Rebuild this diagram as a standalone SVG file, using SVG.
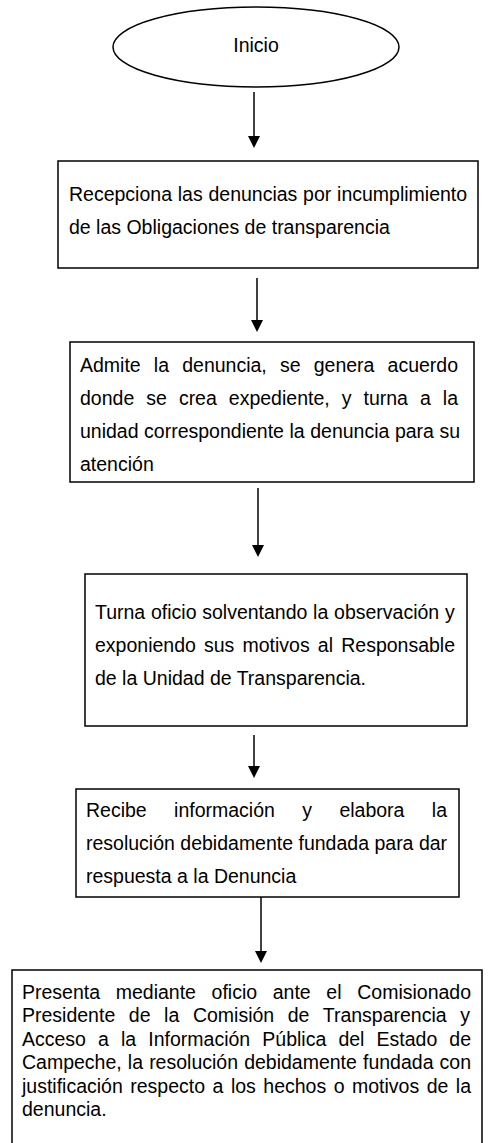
<svg xmlns="http://www.w3.org/2000/svg" width="492" height="1143" viewBox="0 0 492 1143">
<style>
.box{fill:#fff;stroke:#000;stroke-width:1.5}
.t{font-family:"Liberation Sans",Arial,sans-serif;font-size:19.5px;fill:#000}
.c{stroke:#000;stroke-width:1.5;fill:none}
</style>
<defs>
<marker id="ah" markerUnits="userSpaceOnUse" markerWidth="12" markerHeight="12" refX="10" refY="6" orient="auto">
<path d="M0,0 L12,6 L0,12 z" fill="#000"/>
</marker>
</defs>
<rect width="492" height="1143" fill="#fff"/>
<g id="inicio">
<ellipse class="box" cx="256" cy="47" rx="143" ry="40"/>
<text class="t" x="256" y="52" text-anchor="middle">Inicio</text>
</g>
<g id="n1">
<rect class="box" x="58" y="161" width="420" height="107"/>
<text class="t" x="69" y="201" word-spacing="0.35">Recepciona las denuncias por incumplimiento</text>
<text class="t" x="69" y="234">de las Obligaciones de transparencia</text>
</g>
<g id="n2">
<rect class="box" x="70" y="342" width="404" height="140"/>
<text class="t" x="80" y="372" word-spacing="7.75">Admite la denuncia, se genera acuerdo</text>
<text class="t" x="80" y="405" word-spacing="6.61">donde se crea expediente, y turna a la</text>
<text class="t" x="80" y="438" word-spacing="0.12">unidad correspondiente la denuncia para su</text>
<text class="t" x="80" y="471">atención</text>
</g>
<g id="n3">
<rect class="box" x="85" y="574" width="382" height="152"/>
<text class="t" x="95" y="619" word-spacing="0.32">Turna oficio solventando la observación y</text>
<text class="t" x="95" y="652" word-spacing="2.75">exponiendo sus motivos al Responsable</text>
<text class="t" x="95" y="685">de la Unidad de Transparencia.</text>
</g>
<g id="n4">
<rect class="box" x="76" y="789" width="383" height="108"/>
<text class="t" x="86" y="817" word-spacing="21.97">Recibe información y elabora la</text>
<text class="t" x="86" y="850" word-spacing="0.02">resolución debidamente fundada para dar</text>
<text class="t" x="86" y="883">respuesta a la Denuncia</text>
</g>
<g id="n5">
<rect class="box" x="12" y="970" width="470" height="180"/>
<text class="t" x="22" y="999" word-spacing="10.24">Presenta mediante oficio ante el Comisionado</text>
<text class="t" x="22" y="1022.4" word-spacing="8.18">Presidente de la Comisión de Transparencia y</text>
<text class="t" x="22" y="1045.8" word-spacing="6.7">Acceso a la Información Pública del Estado de</text>
<text class="t" x="22" y="1069.2" word-spacing="0.7">Campeche, la resolución debidamente fundada con</text>
<text class="t" x="22" y="1092.6" word-spacing="2.07">justificación respecto a los hechos o motivos de la</text>
<text class="t" x="22" y="1116">denuncia.</text>
</g>
<g id="connectors">
<line class="c" x1="254" y1="92" x2="254" y2="146" marker-end="url(#ah)"/>
<line class="c" x1="257" y1="278" x2="257" y2="330" marker-end="url(#ah)"/>
<line class="c" x1="258" y1="488" x2="258" y2="555" marker-end="url(#ah)"/>
<line class="c" x1="254" y1="735" x2="254" y2="776" marker-end="url(#ah)"/>
<line class="c" x1="261" y1="897" x2="261" y2="961" marker-end="url(#ah)"/>
</g>
</svg>
